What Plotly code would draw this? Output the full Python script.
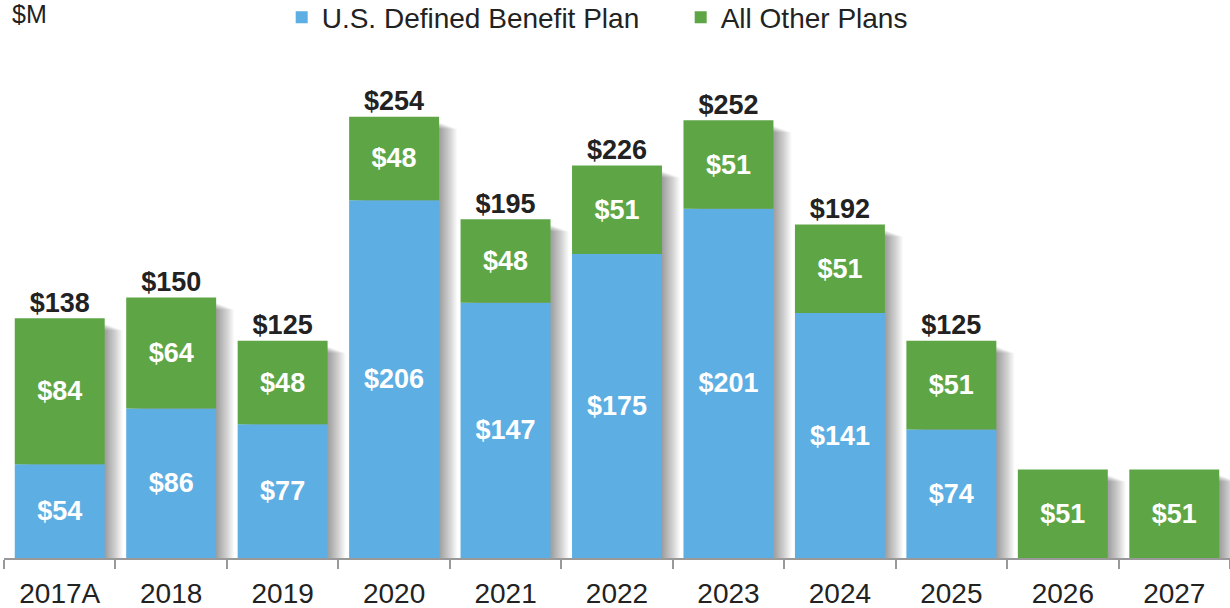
import plotly.graph_objects as go

categories = ["2017A", "2018", "2019", "2020", "2021", "2022", "2023", "2024", "2025", "2026", "2027"]
us_db = [54, 86, 77, 206, 147, 175, 201, 141, 74, 0, 0]
other = [84, 64, 48, 48, 48, 51, 51, 51, 51, 51, 51]
totals = [138, 150, 125, 254, 195, 226, 252, 192, 125, None, None]

BLUE = "#5DAEE2"
GREEN = "#5EA645"
W = 0.807
FONT = "Liberation Sans, Arial, sans-serif"
PX = 1 / 111.45  # one pixel in category units

fig = go.Figure()

# soft shadow behind bars (layered translucent copies shifted right)
stack_top = [u + o for u, o in zip(us_db, other)]
for k in range(18, 0, -1):
    fig.add_trace(go.Bar(
        x=categories, y=[s - 3 - k * 0.22 for s in stack_top], base=0,
        width=W, offset=-W / 2 + k * PX,
        marker=dict(color="rgba(0,0,0,0.022)", line=dict(width=0)),
        showlegend=False, hoverinfo="skip",
    ))

fig.add_trace(go.Bar(
    x=categories, y=us_db, base=0, name="U.S. Defined Benefit Plan",
    width=W, offset=-W / 2,
    marker=dict(color=BLUE, line=dict(width=0)),
    text=[f"${v}" if v else "" for v in us_db],
    textposition="inside", insidetextanchor="middle",
    textfont=dict(family=FONT, size=27, color="white", weight="bold"),
))
fig.add_trace(go.Bar(
    x=categories, y=other, base=us_db, name="All Other Plans",
    width=W, offset=-W / 2,
    marker=dict(color=GREEN, line=dict(width=0)),
    text=[f"${v}" for v in other],
    textposition="inside", insidetextanchor="middle",
    textfont=dict(family=FONT, size=27, color="white", weight="bold"),
))

tc = [c for c, t in zip(categories, totals) if t is not None]
tv = [t for t in totals if t is not None]
fig.add_trace(go.Scatter(
    x=tc, y=tv, mode="text", text=[f"${t}" for t in tv],
    textposition="top center", showlegend=False, hoverinfo="skip",
    textfont=dict(family=FONT, size=27, color="#222222", weight="bold"),
))

fig.update_layout(
    width=1230, height=608,
    barmode="overlay",
    plot_bgcolor="white", paper_bgcolor="white",
    margin=dict(l=4, r=0, t=89, b=50, pad=0, autoexpand=False),
    font=dict(family=FONT, color="#222222"),
    legend=dict(
        orientation="h", x=0.2265, xanchor="left", y=1.1525, yanchor="middle",
        font=dict(size=28, color="#222222"),
        entrywidth=354, entrywidthmode="pixels",
        traceorder="normal", bgcolor="rgba(0,0,0,0)",
    ),
    uniformtext=dict(minsize=27, mode="show"),
)
fig.update_xaxes(
    range=[-0.5, 10.5],
    showline=True, linecolor="#999999", linewidth=1.5,
    ticks="outside", tickson="boundaries", ticklen=9, tickcolor="#999999", tickwidth=1.5,
    tickfont=dict(size=28, color="#222222"), ticklabelstandoff=10,
    showgrid=False, automargin=False,
)
fig.update_yaxes(range=[0, 270], visible=False, showgrid=False, automargin=False)

fig.add_annotation(
    text="$M", xref="paper", yref="paper", x=0.0049, y=1.160,
    xanchor="left", yanchor="middle", showarrow=False,
    font=dict(size=25, color="#222222"),
)

fig.write_html(
    "out.html",
    config={"displayModeBar": False},
    post_script="document.body.style.margin='0';",
)
